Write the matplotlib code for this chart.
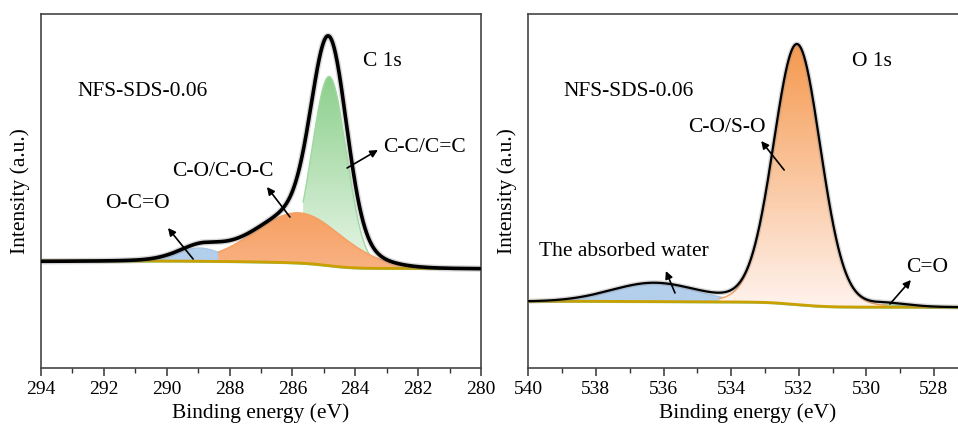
import numpy as np
import matplotlib
matplotlib.use("Agg")
import matplotlib.pyplot as plt
from matplotlib.colors import to_rgba
from matplotlib.ticker import MultipleLocator

plt.rcParams['font.family'] = ['Liberation Serif', 'DejaVu Serif']

# ---------------- data ----------------
sample_name = "NFS-SDS-0.06"

c1s_names = ["O-C=O", "C-O/C-O-C", "C-C/C=C"]
c1s_center = [288.95, 285.8, 284.83]
c1s_height = [14, 51, 190]
c1s_fwhm = [1.75, 3.3, 1.3]
c1s_eta = [0.4, 0.1, 0.05]
c1s_range = [(290.9, 284.5), (288.36, 280.0), (285.66, 283.44)]
c1s_bg = [106.3, 98.7]          # background level at high / low binding energy
c1s_xlim = [294, 280]

o1s_names = ["The absorbed water", "C-O/S-O", "C=O"]
o1s_center = [536.3, 532.05, 529.3]
o1s_height = [18.7, 261, 3]
o1s_fwhm = [3.0, 1.65, 1.4]
o1s_eta = [0.1, 0.1, 0.2]
o1s_range = [(540.0, 531.0), (534.35, 529.4), (530.5, 527.0)]
o1s_bg = [66, 60]
o1s_xlim = [540, 527]


def pvoigt(x, c, h, w, eta):
    g = np.exp(-4 * np.log(2) * ((x - c) / w) ** 2)
    lo = 1.0 / (1 + 4 * ((x - c) / w) ** 2)
    return h * ((1 - eta) * g + eta * lo)


def shirley(x, comps, hi, lo):
    tot = np.sum(comps, axis=0)
    cum = np.concatenate([[0], np.cumsum(0.5 * (tot[1:] + tot[:-1]) * np.diff(x))])
    return lo + (hi - lo) * cum / cum[-1]


def grad_fill(ax, x, y0, y1, ctop, cbot, z):
    poly = ax.fill_between(x, y0, y1, color='none', lw=0)
    path = poly.get_paths()[0]
    n = 256
    top = np.array(to_rgba(ctop))
    bot = np.array(to_rgba(cbot))
    t = np.linspace(0, 1, n)[:, None]
    arr = (bot[None, :] * (1 - t) + top[None, :] * t)[:, None, :]
    img = ax.imshow(arr, extent=[x.min(), x.max(), np.min(y0), np.max(y1)],
                    origin='lower', aspect='auto', zorder=z, interpolation='bilinear')
    img.set_clip_path(path, ax.transData)


def panel(ax, xlim, centers, heights, fwhms, etas, ranges, bg, styles, order, env_lw):
    x = np.linspace(min(xlim) - 1, max(xlim) + 1, 3000)
    comps = [pvoigt(x, c, h, w, e) for c, h, w, e in zip(centers, heights, fwhms, etas)]
    base = shirley(x, comps, bg[0], bg[1])
    env = base + np.sum(comps, axis=0)
    for comp, rng, st, z in zip(comps, ranges, styles, order):
        m = (x <= rng[0]) & (x >= rng[1])
        grad_fill(ax, x[m], base[m], base[m] + comp[m], st[0], st[1], z)
        ax.plot(x[m], base[m] + comp[m], color=st[2], lw=1.0, zorder=z + 0.1)
    ax.plot(x, base, color='#8fcf8f', lw=1.2, zorder=6)
    ax.plot(x, base + 0.8, color='#c9a000', lw=2.0, zorder=6.5)
    ax.plot(x, env, color='#808080', lw=env_lw + 2.0, alpha=0.3, zorder=7)
    ax.plot(x, env, color='black', lw=env_lw, zorder=8)
    ax.set_xlim(xlim)
    ax.set_ylim(0, 354)
    ax.set_yticks([])
    ax.xaxis.set_major_locator(MultipleLocator(2))
    ax.xaxis.set_minor_locator(MultipleLocator(1))
    ax.tick_params(axis='x', which='major', direction='out', length=6, width=1.1,
                   labelsize=14, color='#333333', pad=3)
    ax.tick_params(axis='x', which='minor', direction='out', length=3.5, width=1.0,
                   color='#333333')
    for s in ax.spines.values():
        s.set_color('#444444')
        s.set_linewidth(1.2)
    ax.set_xlabel("Binding energy (eV)", fontsize=15.5, labelpad=4)
    ax.set_ylabel("Intensity (a.u.)", fontsize=15.5, labelpad=8)


fig = plt.figure(figsize=(9.58, 4.30), dpi=100)
ax1 = fig.add_axes([41 / 958, 62 / 430, 440 / 958, 354 / 430])
ax2 = fig.add_axes([528.3 / 958, 62 / 430, 439.4 / 958, 354 / 430])

styles1 = [("#b3cfec", "#b3cfec", "#a8c8ea"),
           ("#f6a062", "#f9b283", "#f4a060"),
           ("#8ccf8c", "#e8f6e8", "#a0d8a0")]
styles2 = [("#b3cfec", "#b3cfec", "#a8c8ea"),
           ("#f5994f", "#fff3ee", "#f4a060"),
           ("#bfe6bf", "#e6f5e6", "#9ad69a")]

panel(ax1, c1s_xlim, c1s_center, c1s_height, c1s_fwhm, c1s_eta, c1s_range, c1s_bg,
      styles1, [2, 4, 3], 2.6)
panel(ax2, o1s_xlim, o1s_center, o1s_height, o1s_fwhm, o1s_eta, o1s_range, o1s_bg,
      styles2, [2, 4, 3], 1.6)

arr = dict(arrowstyle='-|>', color='black', lw=1.2, mutation_scale=11, shrinkA=0, shrinkB=0)
fs = 15.5

ax1.text(292.85, 276, sample_name, fontsize=fs, va='center', ha='left')
ax1.text(283.76, 306, "C 1s", fontsize=fs, va='center', ha='left')
ax1.text(283.12, 220, c1s_names[2], fontsize=fs, va='center', ha='left')
ax1.text(289.83, 196, c1s_names[1], fontsize=fs, va='center', ha='left')
ax1.text(291.96, 165, c1s_names[0], fontsize=fs, va='center', ha='left')
ax1.annotate("", xy=(283.28, 218), xytext=(284.26, 200), arrowprops=arr, zorder=10)
ax1.annotate("", xy=(286.81, 181), xytext=(286.08, 151), arrowprops=arr, zorder=10)
ax1.annotate("", xy=(289.96, 140), xytext=(289.16, 109), arrowprops=arr, zorder=10)

ax2.text(538.97, 276, sample_name, fontsize=fs, va='center', ha='left')
ax2.text(530.42, 306, "O 1s", fontsize=fs, va='center', ha='left')
ax2.text(535.28, 241, o1s_names[1], fontsize=fs, va='center', ha='left')
ax2.text(539.68, 116, o1s_names[0], fontsize=fs, va='center', ha='left')
ax2.text(528.83, 100, o1s_names[2], fontsize=fs, va='center', ha='left')
ax2.annotate("", xy=(533.11, 227), xytext=(532.43, 198), arrowprops=arr, zorder=10)
ax2.annotate("", xy=(535.93, 97), xytext=(535.66, 75), arrowprops=arr, zorder=10)
ax2.annotate("", xy=(528.68, 88), xytext=(529.30, 64), arrowprops=arr, zorder=10)

fig.savefig("out.png", dpi=100)
